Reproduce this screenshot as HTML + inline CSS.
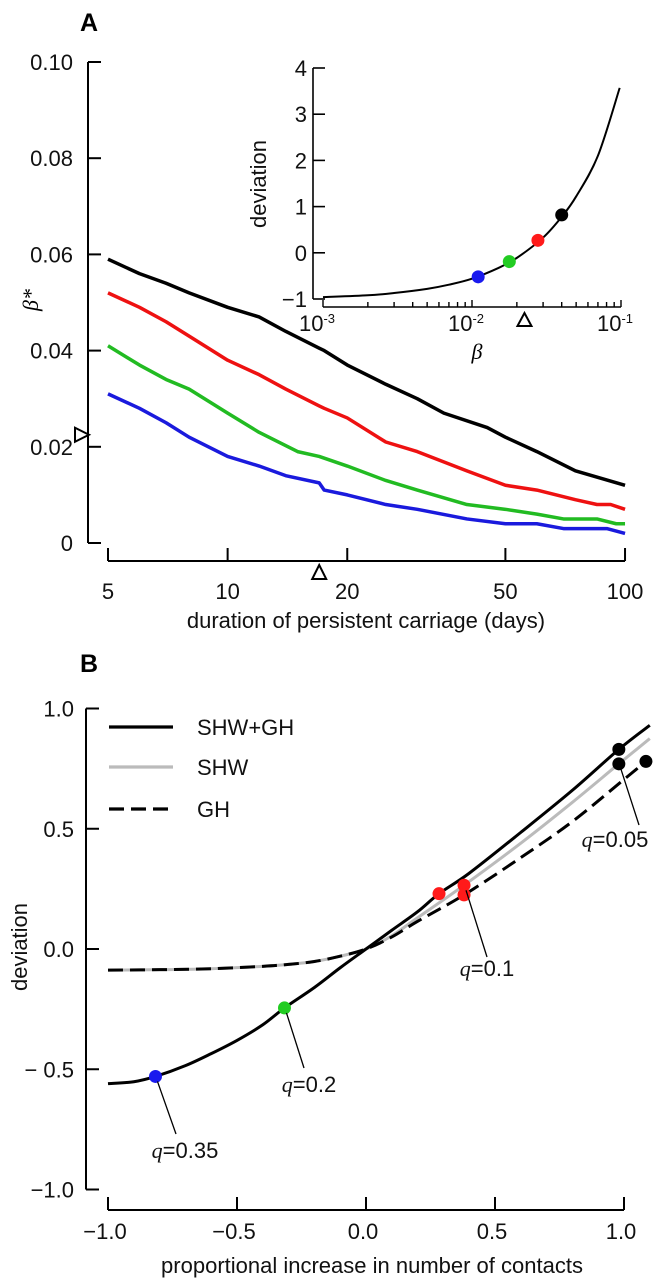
<!DOCTYPE html>
<html><head><meta charset="utf-8">
<style>
html,body{margin:0;padding:0;background:#fff;}
svg{display:block;font-family:"Liberation Sans",Arial,sans-serif;}
.t{font-size:22px;fill:#111;}
</style></head>
<body>
<svg id="fig" width="658" height="1285" viewBox="0 0 658 1285" xmlns="http://www.w3.org/2000/svg">
<text x="80" y="31" font-size="25" font-weight="bold">A</text>
<text x="80" y="672" font-size="25" font-weight="bold">B</text>
<g id="gA"></g>
<g id="gI"></g>
<g id="gB"></g>
</svg>
<script>
// ---- Panel A data ----
const aYTicks = [0, 0.02, 0.04, 0.06, 0.08, 0.10];
const aYTickLabels = ["0", "0.02", "0.04", "0.06", "0.08", "0.10"];
const aXTicks = [5, 10, 20, 50, 100];
const aXTickLabels = ["5", "10", "20", "50", "100"];
const blackX = [5,6,7,8,10,12,14,17,17.5,20,25,30,35,45,50,60,75,100];
const blackY = [0.059,0.056,0.054,0.052,0.049,0.047,0.044,0.0405,0.040,0.037,0.033,0.030,0.027,0.024,0.022,0.019,0.015,0.012];
const redX = [5,6,7,8,10,12,14,17,17.5,20,25,30,40,50,60,75,85,92,100];
const redY = [0.052,0.049,0.046,0.043,0.038,0.035,0.032,0.0285,0.028,0.026,0.021,0.019,0.015,0.012,0.011,0.009,0.008,0.008,0.007];
const greenX = [5,6,7,8,10,12,15,17,20,25,30,40,50,60,70,85,95,100];
const greenY = [0.041,0.037,0.034,0.032,0.027,0.023,0.019,0.018,0.016,0.013,0.011,0.008,0.007,0.006,0.005,0.005,0.004,0.004];
const blueX = [5,6,7,8,10,12,14,17,17.5,20,25,30,40,50,60,70,90,100];
const blueY = [0.031,0.028,0.025,0.022,0.018,0.016,0.014,0.0125,0.011,0.010,0.008,0.007,0.005,0.004,0.004,0.003,0.003,0.002];
const aMarkerX = 17;
const aMarkerY = 0.0225;
// ---- Inset data ----
const iYTicks = [-1,0,1,2,3,4];
const iYTickLabels = ["−1","0","1","2","3","4"];
const iBeta = [0.001,0.002,0.003,0.005,0.007,0.01,0.015,0.02,0.03,0.04,0.05,0.07,0.098];
const iDev = [-0.96,-0.92,-0.87,-0.78,-0.69,-0.56,-0.33,-0.11,0.33,0.78,1.22,2.1,3.57];
const iDotBeta = [0.011,0.0178,0.0277,0.040];
const iDotDev = [-0.52,-0.19,0.27,0.82];
const iMarkerBeta = 0.0225;
// ---- Panel B data ----
const bXTicks = [-1,-0.5,0,0.5,1];
const bXTickLabels = ["−1.0","−0.5","0.0","0.5","1.0"];
const bYTicks = [-1,-0.5,0,0.5,1];
const bYTickLabels = ["−1.0","− 0.5","0.0","0.5","1.0"];
const shwghX = [-1,-0.9,-0.816,-0.7,-0.6,-0.5,-0.4,-0.316,-0.2,-0.1,0,0.1,0.2,0.283,0.4,0.6,0.8,0.98,1.1];
const shwghY = [-0.56,-0.552,-0.53,-0.485,-0.435,-0.38,-0.315,-0.245,-0.16,-0.078,0,0.078,0.155,0.23,0.315,0.485,0.66,0.83,0.93];
const shwX = [-1,-0.8,-0.6,-0.4,-0.3,-0.2,-0.1,0,0.1,0.2,0.38,0.6,0.8,0.98,1.1];
const shwY = [-0.088,-0.086,-0.082,-0.072,-0.064,-0.052,-0.03,0,0.055,0.13,0.265,0.44,0.61,0.77,0.875];
const ghX = [-1,-0.8,-0.6,-0.4,-0.3,-0.2,-0.1,0,0.1,0.2,0.38,0.6,0.8,1.0,1.085];
const ghY = [-0.088,-0.086,-0.082,-0.072,-0.064,-0.052,-0.03,0,0.05,0.115,0.225,0.38,0.53,0.705,0.78];
const bDotX = [-0.816,-0.316,0.283,0.38,0.38,0.98,0.98,1.085];
const bDotY = [-0.53,-0.245,0.23,0.265,0.225,0.83,0.77,0.78];
const bDotColor = ["#1a1aee","#22cc22","#ff1a1a","#ff1a1a","#ff1a1a","#000","#000","#000"];
const qLabels = ["0.35","0.2","0.1","0.05"];

const NS = "http://www.w3.org/2000/svg";
function mk(parent, tag, attrs, text){
  const e = document.createElementNS(NS, tag);
  for (const k in attrs) e.setAttribute(k, attrs[k]);
  if (text !== undefined) e.textContent = text;
  parent.appendChild(e);
  return e;
}
function pathD(xs, ys, fx, fy){
  return xs.map((x,i)=>(i?"L":"M")+fx(x).toFixed(2)+","+fy(ys[i]).toFixed(2)).join(" ");
}
function smoothD(xs, ys, fx, fy){
  const p = xs.map((x,i)=>[fx(x), fy(ys[i])]);
  let d = "M"+p[0][0]+","+p[0][1];
  for (let i=0;i<p.length-1;i++){
    const p0=p[Math.max(0,i-1)], p1=p[i], p2=p[i+1], p3=p[Math.min(p.length-1,i+2)];
    const c1x=p1[0]+(p2[0]-p0[0])/6, c1y=p1[1]+(p2[1]-p0[1])/6;
    const c2x=p2[0]-(p3[0]-p1[0])/6, c2y=p2[1]-(p3[1]-p1[1])/6;
    d += " C"+c1x.toFixed(2)+","+c1y.toFixed(2)+" "+c2x.toFixed(2)+","+c2y.toFixed(2)+" "+p2[0].toFixed(2)+","+p2[1].toFixed(2);
  }
  return d;
}

// ===== Panel A =====
const gA = document.getElementById("gA");
const ax = d => 108 + 397.4*Math.log10(d/5);
const ay = v => 543 - v/0.02*96.2;
let e;
e = mk(gA,"line",{x1:88,y1:ay(0.10),x2:88,y2:ay(0),stroke:"#000","stroke-width":2});
 
aYTicks.forEach((v,i)=>{
  e = mk(gA,"line",{x1:88,y1:ay(v),x2:101,y2:ay(v),stroke:"#000","stroke-width":2});
   
  e = mk(gA,"text",{x:73,y:ay(v)+8,"text-anchor":"end",class:"t"},aYTickLabels[i]);
   
});
e = mk(gA,"line",{x1:ax(5),y1:561,x2:ax(100),y2:561,stroke:"#000","stroke-width":2});
 
aXTicks.forEach((v,i)=>{
  e = mk(gA,"line",{x1:ax(v),y1:561,x2:ax(v),y2:548,stroke:"#000","stroke-width":2});
   
  e = mk(gA,"text",{x:ax(v),y:599,"text-anchor":"middle",class:"t"},aXTickLabels[i]);
   
});
e = mk(gA,"text",{x:366,y:628,"text-anchor":"middle",class:"t","font-size":"21"},"duration of persistent carriage (days)");
 
e = mk(gA,"text",{x:0,y:0,transform:"translate(38,300) rotate(-90)","text-anchor":"middle","font-size":"22","font-style":"italic","font-family":"Liberation Serif, serif"},"β*");
 
[[blackX,blackY,"#000","black"],[redX,redY,"#ee1111","red"],[greenX,greenY,"#22bb22","green"],[blueX,blueY,"#1a1add","blue"]].forEach(s=>{
  e = mk(gA,"path",{d:pathD(s[0],s[1],ax,ay),fill:"none",stroke:s[2],"stroke-width":3.5,"stroke-linejoin":"round"});
   
});
{ const tx=ax(aMarkerX);
  e = mk(gA,"path",{d:`M${tx},565 L${tx-7},579 L${tx+7},579 Z`,fill:"#fff",stroke:"#000","stroke-width":2});
   
  const ty=ay(aMarkerY);
  e = mk(gA,"path",{d:`M89,${ty} L75,${ty-7} L75,${ty+7} Z`,fill:"#fff",stroke:"#000","stroke-width":2});
   
}

// ===== Inset =====
const gI = document.getElementById("gI");
const ix = b => 323 + 149*(Math.log10(b)+3);
const iy = v => 299 - (v+1)*46.2;
e = mk(gI,"line",{x1:313,y1:iy(4),x2:313,y2:iy(-1),stroke:"#000","stroke-width":1.6});
 
iYTicks.forEach((v,i)=>{
  e = mk(gI,"line",{x1:313,y1:iy(v),x2:325,y2:iy(v),stroke:"#000","stroke-width":1.6});
   
  e = mk(gI,"text",{x:307,y:iy(v)+8,"text-anchor":"end",class:"t"},iYTickLabels[i]);
   
});
e = mk(gI,"line",{x1:ix(0.001),y1:307,x2:ix(0.1),y2:307,stroke:"#000","stroke-width":1.6});
 
for (let dec=-3; dec<=-2; dec++){
  for (let m=1; m<=9; m++){
    const b = m*Math.pow(10,dec);
    e = mk(gI,"line",{x1:ix(b),y1:307,x2:ix(b),y2:m===1?300:302,stroke:"#000","stroke-width":1.4});
     
  }
}
e = mk(gI,"line",{x1:ix(0.1),y1:307,x2:ix(0.1),y2:300,stroke:"#000","stroke-width":1.4});
 
[["-3",0.001],["-2",0.01],["-1",0.1]].forEach(t=>{
  e = mk(gI,"text",{x:ix(t[1])-6,y:331,"text-anchor":"middle",class:"t"});
   
  mk(e,"tspan",{},"10");
  mk(e,"tspan",{dy:-8,"font-size":"13"},t[0]);
});
e = mk(gI,"text",{x:477,y:359,"text-anchor":"middle","font-size":"22","font-style":"italic","font-family":"Liberation Serif, serif"},"β");
 
e = mk(gI,"text",{x:0,y:0,transform:"translate(266,184) rotate(-90)","text-anchor":"middle",class:"t","font-size":"21"},"deviation");
 
e = mk(gI,"path",{d:smoothD(iBeta.map(Math.log10),iDev,v=>323+149*(v+3),iy),fill:"none",stroke:"#000","stroke-width":2});
 
const iCols = ["#1a1aee","#22cc22","#ff1a1a","#000"];
iDotBeta.forEach((b,i)=>{
  e = mk(gI,"circle",{cx:ix(b),cy:iy(iDotDev[i]),r:6.5,fill:iCols[i]});
   
});
{ const tx=ix(iMarkerBeta);
  e = mk(gI,"path",{d:`M${tx},313 L${tx-7},326 L${tx+7},326 Z`,fill:"#fff",stroke:"#000","stroke-width":2});
   
}

// ===== Panel B =====
const gB = document.getElementById("gB");
const bx = v => 366 + v*258;
const by = v => 949 - v*240.5;
e = mk(gB,"line",{x1:86,y1:by(1),x2:86,y2:by(-1),stroke:"#000","stroke-width":2});
 
bYTicks.forEach((v,i)=>{
  e = mk(gB,"line",{x1:86,y1:by(v),x2:99,y2:by(v),stroke:"#000","stroke-width":2});
   
  e = mk(gB,"text",{x:74,y:by(v)+8,"text-anchor":"end",class:"t"},bYTickLabels[i]);
   
});
e = mk(gB,"line",{x1:bx(-1),y1:1210,x2:bx(1),y2:1210,stroke:"#000","stroke-width":2});
 
bXTicks.forEach((v,i)=>{
  e = mk(gB,"line",{x1:bx(v),y1:1210,x2:bx(v),y2:1197,stroke:"#000","stroke-width":2});
   
  e = mk(gB,"text",{x:bx(v)-3,y:1239,"text-anchor":"middle",class:"t"},bXTickLabels[i]);
   
});
e = mk(gB,"text",{x:372,y:1273,"text-anchor":"middle",class:"t","font-size":"21"},"proportional increase in number of contacts");
 
e = mk(gB,"text",{x:0,y:0,transform:"translate(27,947) rotate(-90)","text-anchor":"middle",class:"t","font-size":"21"},"deviation");
 
e = mk(gB,"path",{d:smoothD(shwX,shwY,bx,by),fill:"none",stroke:"#bbb","stroke-width":3});
 
e = mk(gB,"path",{d:smoothD(ghX,ghY,bx,by),fill:"none",stroke:"#000","stroke-width":3,"stroke-dasharray":"15,7"});
 
e = mk(gB,"path",{d:smoothD(shwghX,shwghY,bx,by),fill:"none",stroke:"#000","stroke-width":3});
 
bDotX.forEach((v,i)=>{
  e = mk(gB,"circle",{cx:bx(v),cy:by(bDotY[i]),r:6.5,fill:bDotColor[i]});
   
});
const ann = [[0,176,1134,185,1158],[1,304,1068,309,1092],[3,487,957,487,976],[6,639,825,615,847]];
ann.forEach((a,k)=>{
  const i=a[0];
  e = mk(gB,"line",{x1:bx(bDotX[i])+2,y1:by(bDotY[i])+5,x2:a[1],y2:a[2],stroke:"#000","stroke-width":1.3});
   
  e = mk(gB,"text",{x:a[3],y:a[4],"text-anchor":"middle",class:"t"});
   
  mk(e,"tspan",{"font-family":"Liberation Serif, serif","font-style":"italic"},"q");
  mk(e,"tspan",{},"="+qLabels[k]);
});
const leg = [["SHW+GH","#000",""],["SHW","#bbb",""],["GH","#000","15,7"]];
const legY = [727,767,809];
leg.forEach((l,i)=>{
  e = mk(gB,"line",{x1:109,y1:legY[i],x2:173,y2:legY[i],stroke:l[1],"stroke-width":3.2,"stroke-dasharray":l[2]||"none"});
   
  e = mk(gB,"text",{x:197,y:legY[i]+8,class:"t"},l[0]);
   
});
</script>
</body></html>
